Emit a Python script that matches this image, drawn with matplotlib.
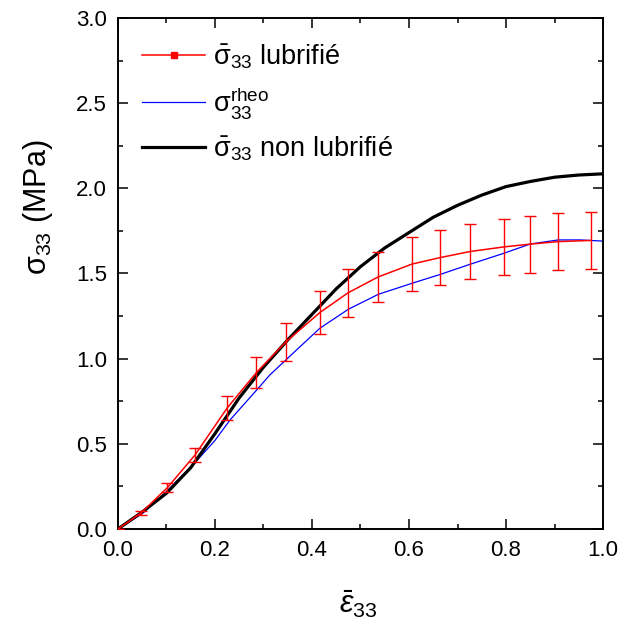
import matplotlib
matplotlib.use('Agg')
import matplotlib.pyplot as plt
from matplotlib.lines import Line2D
from matplotlib.ticker import MultipleLocator

plt.rcParams['font.family'] = ['Liberation Sans', 'DejaVu Sans']
plt.rcParams['mathtext.fontset'] = 'custom'
plt.rcParams['mathtext.rm'] = 'Liberation Sans'
plt.rcParams['mathtext.it'] = 'Liberation Sans:italic'
plt.rcParams['mathtext.bf'] = 'Liberation Sans:bold'

# sigma_33 lubrifie (moyenne + barres d'erreur)
eps_lub = [0.0, 0.047, 0.102, 0.159, 0.225, 0.285, 0.346, 0.416, 0.474, 0.536,
           0.606, 0.664, 0.726, 0.796, 0.849, 0.908, 0.975]
sig_lub = [0.0, 0.093, 0.243, 0.435, 0.71, 0.917, 1.098, 1.27, 1.386, 1.479,
           1.555, 1.593, 1.629, 1.656, 1.672, 1.687, 1.694]
err_lub = [0.0, 0.01, 0.025, 0.043, 0.07, 0.091, 0.11, 0.128, 0.139, 0.148,
           0.157, 0.161, 0.161, 0.166, 0.168, 0.169, 0.169]

# sigma_33 rheo
eps_rheo = [0.0, 0.05, 0.1, 0.159, 0.2, 0.231, 0.286, 0.313, 0.355, 0.416, 0.475,
            0.537, 0.607, 0.665, 0.726, 0.795, 0.85, 0.908, 0.953, 1.0]
sig_rheo = [0.0, 0.09, 0.22, 0.39, 0.52, 0.64, 0.816, 0.904, 1.016, 1.178, 1.29,
            1.378, 1.443, 1.495, 1.554, 1.618, 1.673, 1.697, 1.697, 1.69]

# sigma_33 non lubrifie
eps_nl = [0.0, 0.05, 0.1, 0.15, 0.2, 0.25, 0.3, 0.35, 0.4, 0.45, 0.5, 0.55,
          0.6, 0.65, 0.7, 0.75, 0.8, 0.85, 0.9, 0.95, 1.0]
sig_nl = [0.0, 0.1, 0.21, 0.36, 0.56, 0.77, 0.95, 1.11, 1.26, 1.41, 1.54, 1.65,
          1.74, 1.83, 1.90, 1.96, 2.01, 2.04, 2.065, 2.078, 2.085]

fig = plt.figure(figsize=(6.23, 6.26), dpi=100)
ax = fig.add_axes([0.1894, 0.155, 0.7785, 0.8163])

ax.errorbar(eps_lub, sig_lub, yerr=err_lub, color='#ff0000', lw=1.1,
            elinewidth=1.0, capsize=4, capthick=1.0, zorder=3)
ax.plot(eps_rheo, sig_rheo, color='#0000ff', lw=0.9, zorder=2)
ax.plot(eps_nl, sig_nl, color='black', lw=2.3, zorder=2)

ax.set_xlim(0, 1.0)
ax.set_ylim(0, 3.0)
ax.xaxis.set_major_locator(MultipleLocator(0.2))
ax.xaxis.set_minor_locator(MultipleLocator(0.1))
ax.yaxis.set_major_locator(MultipleLocator(0.5))
ax.yaxis.set_minor_locator(MultipleLocator(0.25))
ax.xaxis.set_major_formatter(plt.FormatStrFormatter('%.1f'))
ax.yaxis.set_major_formatter(plt.FormatStrFormatter('%.1f'))
ax.tick_params(which='both', direction='in', top=True, right=True, width=1.1)
ax.tick_params(which='major', length=7, labelsize=16, pad=8)
ax.tick_params(which='minor', length=3.6)
for s in ax.spines.values():
    s.set_linewidth(1.4)

ax.set_xlabel(r'$\bar{\varepsilon}_{33}$', fontsize=22)
ax.xaxis.set_label_coords(0.495, -0.115)
ax.set_ylabel(r'$\mathrm{\sigma}_{33}$ (MPa)', fontsize=22)
ax.yaxis.set_label_coords(-0.13, 0.63)

handles = [
    Line2D([], [], color='#ff0000', lw=1.1, marker='s', markersize=4),
    Line2D([], [], color='#0000ff', lw=0.9),
    Line2D([], [], color='black', lw=2.3),
]
labels = [r'$\bar{\mathrm{\sigma}}_{33}$ lubrifié',
          r'$\mathrm{\sigma}_{33}^{\mathrm{rheo}}$',
          r'$\bar{\mathrm{\sigma}}_{33}$ non lubrifié']
ax.legend(handles, labels, loc='upper left', frameon=False, fontsize=19.5,
          handlelength=2.3, handletextpad=0.3, labelspacing=0.5,
          borderaxespad=0.5, borderpad=0.4)

fig.savefig('out.png', dpi=100)
